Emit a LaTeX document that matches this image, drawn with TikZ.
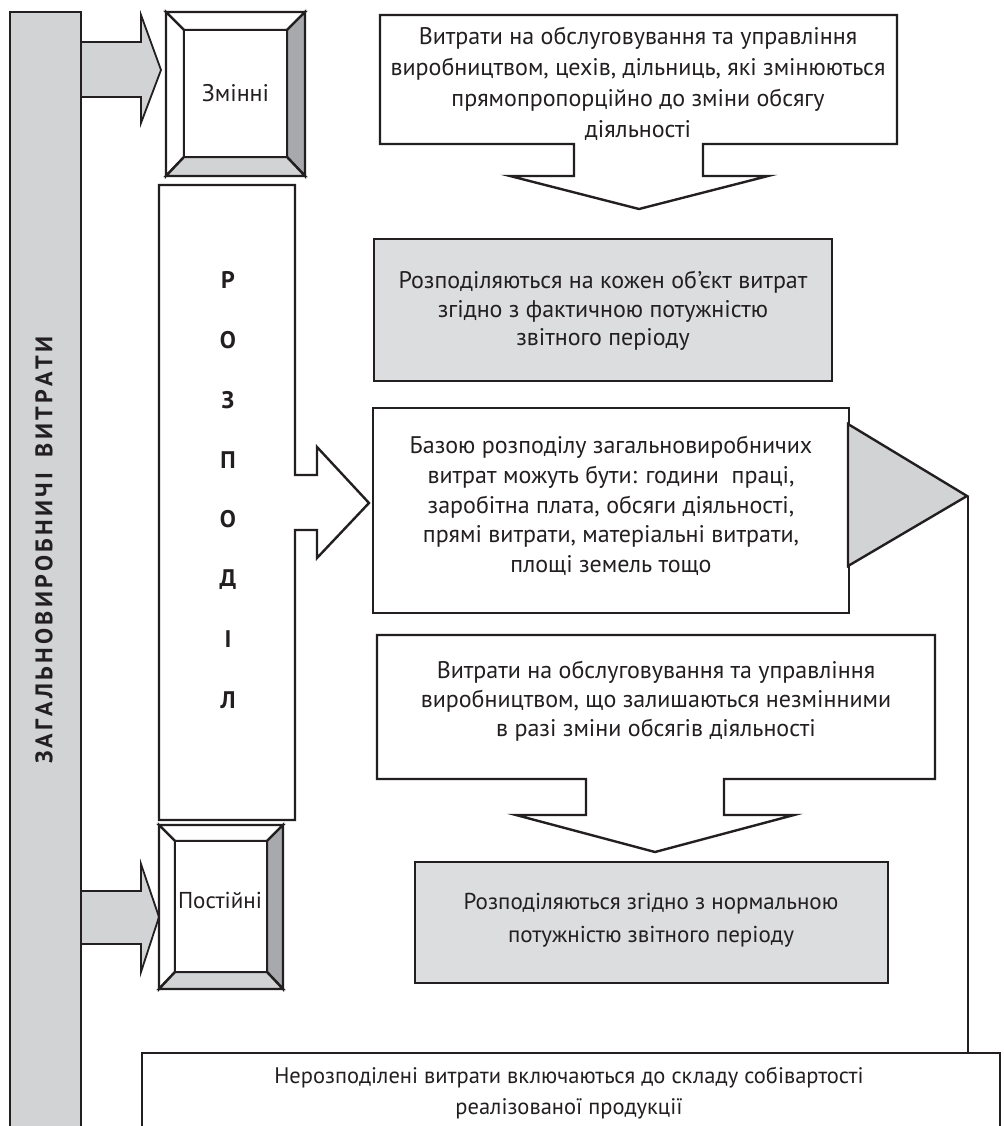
\documentclass[tikz,border=0pt]{standalone}
\usepackage{fontspec}
\setmainfont{PT Sans}
\definecolor{ink}{HTML}{231F20}
\definecolor{lg}{HTML}{D1D3D4}
\definecolor{boxg}{HTML}{DCDDDE}
\definecolor{dg}{HTML}{A7A9AC}
\newcommand{\ks}{\kern3.2pt}
\begin{document}
\begin{tikzpicture}[x=1pt,y=-1pt,line join=miter,
  outl/.style={draw=ink,line width=2.4pt},
  arr/.style={draw=ink,line width=1.8pt,fill=lg},
  txt/.style={text=ink,align=center,inner sep=0pt,font=\fontsize{24}{30}\selectfont},
  bold/.style={text=ink,inner sep=0pt,font=\fontsize{24}{28}\selectfont\bfseries}]
\useasboundingbox (0,0) rectangle (1003,1126);
\fill[white] (0,0) rectangle (1003,1126);

% left bar
\draw[outl,fill=lg] (10,1126) -- (10,12) -- (81,12) -- (81,1126);
\node[bold,rotate=90] (title) at (44,550) {З\ks А\ks Г\ks А\ks Л\ks Ь\ks Н\ks О\ks В\ks И\ks Р\ks О\ks Б\ks Н\ks И\ks Ч\ks І\ks\ks\ks\ks\ks В\ks И\ks Т\ks Р\ks А\ks Т\ks И};

% arrows from bar
\draw[arr] (82,42) -- (141,42) -- (141,15) -- (161,70) -- (141,123) -- (141,97) -- (82,97);
\draw[arr] (82,891) -- (141,891) -- (141,864) -- (159,917) -- (141,972) -- (141,944) -- (82,944);

% bevel box Zminni
\begin{scope}[outl]
\draw[fill=white] (166,12) -- (305,12) -- (287,30) -- (184,30) -- cycle;
\draw[fill=white] (166,12) -- (184,30) -- (184,157) -- (166,176) -- cycle;
\draw[fill=dg] (305,12) -- (305,176) -- (287,157) -- (287,30) -- cycle;
\draw[fill=lg] (166,176) -- (305,176) -- (287,157) -- (184,157) -- cycle;
\draw[fill=white] (184,30) rectangle (287,157);
\end{scope}
\node[txt] (zminni) at (235.5,93) {Змінні};

% bevel box Postiyni
\begin{scope}[outl]
\draw[fill=white] (159,825) -- (283,825) -- (267,841) -- (175,841) -- cycle;
\draw[fill=white] (159,825) -- (175,841) -- (175,972) -- (159,989) -- cycle;
\draw[fill=dg] (283,825) -- (283,989) -- (267,972) -- (267,841) -- cycle;
\draw[fill=lg] (159,989) -- (283,989) -- (267,972) -- (175,972) -- cycle;
\draw[fill=white] (175,841) rectangle (267,972);
\end{scope}
\node[txt,font=\fontsize{23}{28}\selectfont] (postiyni) at (220,900) {Постійні};

% tall box rozpodil with arrow
\draw[outl,fill=white] (159,185) -- (295,185) -- (295,475) -- (317,475) -- (317,447) -- (369,503) -- (317,558) -- (317,530) -- (295,530) -- (295,820) -- (159,820) -- cycle;
\foreach \l/\yy [count=\i] in {Р/280,О/340,З/400,П/460,О/519,Д/580,І/639,Л/700}
  \node[bold] (r\i) at (228,\yy) {\l};

% top callout
\draw[outl,fill=white] (380,15) -- (897,15) -- (897,144) -- (703,144) -- (703,176) -- (768,176) -- (639,209) -- (510,176) -- (574,176) -- (574,144) -- (380,144) -- cycle;
\node[txt,font=\fontsize{24}{31}\selectfont] (c1) at (638,84) {Витрати на обслуговування та управління\\виробництвом, цехів, дільниць, які змінюються\\прямопропорційно до зміни обсягу\\діяльності};

% gray box 1
\draw[outl,fill=boxg] (374,239) rectangle (832,381);
\node[txt,font=\fontsize{24}{28.5}\selectfont] (g1) at (603,311) {Розподіляються на кожен об\kern0.5pt\char"2019єкт витрат\\згідно з фактичною потужністю\\звітного періоду};

% box base
\draw[outl,fill=white] (373,408) rectangle (849,613);
\node[txt,font=\fontsize{24}{29.7}\selectfont] (b1) at (611,506) {Базою розподілу загальновиробничих\\витрат можуть бути: години\ \ праці,\\заробітна плата, обсяги діяльності,\\прямі витрати, матеріальні витрати,\\площі земель тощо};

% triangle
\draw[outl,fill=lg] (848,424) -- (967,496) -- (848,566) -- cycle;
\coordinate (tri) at (968,496);

% callout 2
\draw[outl,fill=white] (377,635) -- (935,635) -- (935,779) -- (724,779) -- (724,815) -- (794,815) -- (655,852) -- (516,815) -- (586,815) -- (586,779) -- (377,779) -- cycle;
\node[txt,font=\fontsize{24}{29}\selectfont] (c2) at (656,701) {Витрати на обслуговування та управління\\виробництвом, що залишаються незмінними\\в разі зміни обсягів діяльності};

% gray box 2
\draw[outl,fill=boxg] (415,862) rectangle (888,983);
\node[txt,font=\fontsize{23}{33}\selectfont] (g2) at (651,920) {Розподіляються згідно з нормальною\\потужністю звітного періоду};

% bottom box
\draw[outl,fill=white] (142,1126) -- (142,1053) -- (1000,1053) -- (1000,1126);
\node[txt,font=\fontsize{22.5}{31}\selectfont] (bot) at (569,1093) {Нерозподілені витрати включаються до складу собівартості\\реалізованої продукції};
\coordinate (botin) at (968,1053);

% connector
\draw[ink,line width=1.2pt] (tri) -- (botin);
\end{tikzpicture}
\end{document}
